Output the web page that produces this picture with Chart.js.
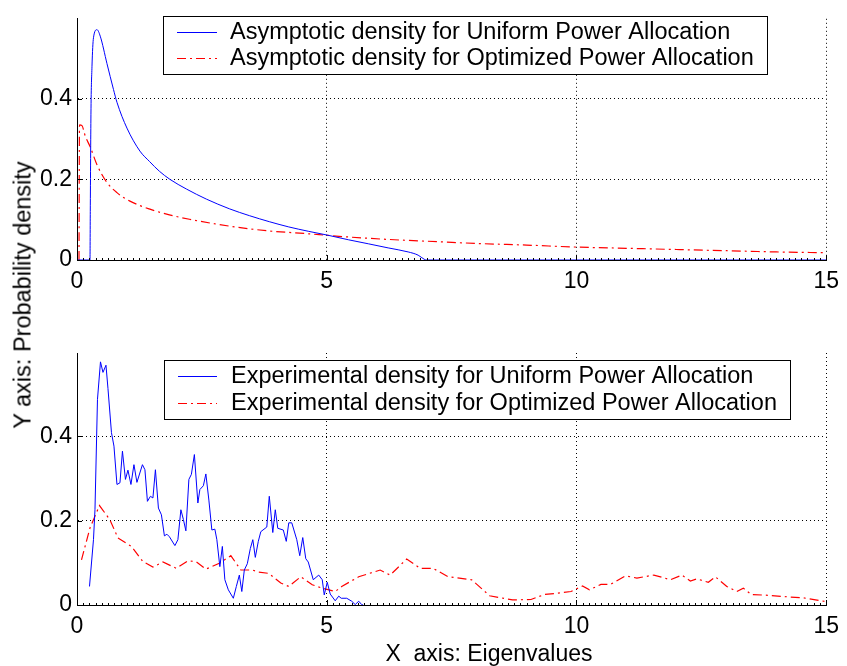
<!DOCTYPE html>
<html>
<head>
<meta charset="utf-8">
<script src="https://cdn.jsdelivr.net/npm/chart.js@4.4.0/dist/chart.umd.min.js"></script>
<style>
  html, body { margin: 0; padding: 0; background: #fff; }
  #wrap { position: relative; width: 847px; height: 666px; overflow: hidden;
          font-family: "Liberation Sans", Arial, Helvetica, sans-serif; }
  canvas { position: absolute; left: 0; }
  #topChart { top: 0; }
  #bottomChart { top: 333px; }
  .axis-title { position: absolute; color: #000; white-space: pre; }
  #yTitle { left: 23px; top: 295px; font-size: 23.5px; transform: translate(-50%, -50%) rotate(-90deg); }
  #xTitle { left: 489px; top: 653px; font-size: 23px; transform: translate(-50%, -50%); }
</style>
</head>
<body>
<div id="wrap">
  <canvas id="topChart" width="847" height="333"></canvas>
  <canvas id="bottomChart" width="847" height="333"></canvas>
  <div class="axis-title" id="yTitle">Y axis: Probability density</div>
  <div class="axis-title" id="xTitle">X  axis: Eigenvalues</div>
</div>
<script>
// tick labels
const xTickLabels = [0, 5, 10, 15];
const yTickValues = [0, 0.2, 0.4];

const legendTop = ['Asymptotic density for Uniform Power Allocation',
                   'Asymptotic density for Optimized Power Allocation'];
const legendBottom = ['Experimental density for Uniform Power Allocation',
                      'Experimental density for Optimized Power Allocation'];

// [eigenvalue, density]
const asymUniform = [
    [0, 0], [0.26, 0], [0.266, 0.12], [0.279, 0.36], [0.30, 0.479], [0.33, 0.551],
    [0.40, 0.571], [0.465, 0.555], [0.60, 0.487], [0.73, 0.423], [0.80, 0.391],
    [1.0, 0.327], [1.26, 0.270], [1.454, 0.244], [1.65, 0.220], [1.86, 0.2],
    [2.19, 0.176], [2.59, 0.151], [3.05, 0.127], [3.45, 0.110], [3.85, 0.095],
    [4.24, 0.082], [4.64, 0.071], [5.02, 0.0615], [5.44, 0.050], [5.84, 0.040],
    [6.23, 0.030], [6.63, 0.020], [6.83, 0.012], [6.95, 0.002], [7.0, 0], [15, 0]
];

const asymOptimized = [
    [0.04, 0], [0.05, 0.335], [0.10, 0.333], [0.166, 0.307], [0.266, 0.28],
    [0.40, 0.236], [0.60, 0.192], [0.80, 0.167], [1.06, 0.146], [1.46, 0.126],
    [1.85, 0.112], [2.25, 0.101], [3.05, 0.084], [3.85, 0.072], [4.64, 0.065],
    [5.02, 0.061], [5.44, 0.057], [6.23, 0.051], [7.29, 0.045], [8, 0.041],
    [9, 0.037], [10, 0.032], [11, 0.029], [12, 0.026], [13, 0.023], [14, 0.020],
    [15, 0.018]
];

const expUniform = [
    [0.25, 0.044], [0.33, 0.155], [0.36, 0.226], [0.41, 0.488], [0.47, 0.577],
    [0.52, 0.552], [0.58, 0.569], [0.62, 0.514], [0.69, 0.409], [0.74, 0.377],
    [0.80, 0.286], [0.86, 0.290], [0.91, 0.365], [0.97, 0.298], [1.02, 0.320],
    [1.08, 0.286], [1.14, 0.333], [1.20, 0.291], [1.31, 0.333], [1.36, 0.321],
    [1.41, 0.246], [1.47, 0.258], [1.52, 0.254], [1.57, 0.321], [1.63, 0.230],
    [1.69, 0.214], [1.75, 0.164], [1.80, 0.168], [1.85, 0.162], [1.96, 0.141],
    [2.02, 0.155], [2.08, 0.226], [2.13, 0.203], [2.18, 0.176], [2.24, 0.298],
    [2.29, 0.310], [2.35, 0.357], [2.42, 0.242], [2.46, 0.274], [2.53, 0.283],
    [2.58, 0.311], [2.64, 0.249], [2.70, 0.178], [2.76, 0.180], [2.80, 0.155],
    [2.86, 0.091], [2.91, 0.139], [2.96, 0.060], [3.03, 0.036], [3.13, 0.016],
    [3.19, 0.044], [3.25, 0.071], [3.30, 0.032], [3.35, 0.083], [3.41, 0.098],
    [3.47, 0.134], [3.52, 0.155], [3.57, 0.113], [3.63, 0.151], [3.68, 0.174],
    [3.80, 0.185], [3.85, 0.258], [3.92, 0.172], [3.97, 0.226], [4.02, 0.182],
    [4.13, 0.178], [4.19, 0.151], [4.24, 0.195], [4.30, 0.195], [4.40, 0.155],
    [4.46, 0.117], [4.52, 0.160], [4.58, 0.110], [4.63, 0.102], [4.73, 0.060],
    [4.84, 0.071], [4.91, 0.060], [4.95, 0.024], [5.01, 0.054], [5.07, 0.026],
    [5.17, 0.010], [5.24, 0.021], [5.29, 0.016], [5.40, 0.016], [5.50, 0.009],
    [5.57, 0.001], [5.64, 0.009], [5.70, 0.001], [5.73, 0]
];

const expOptimized = [
    [0.09, 0.107], [0.26, 0.183], [0.45, 0.236], [0.66, 0.202], [0.82, 0.159],
    [1.09, 0.139], [1.32, 0.103], [1.52, 0.090], [1.72, 0.102], [1.99, 0.087],
    [2.22, 0.105], [2.38, 0.103], [2.58, 0.085], [2.85, 0.099], [3.08, 0.117],
    [3.28, 0.083], [3.51, 0.083], [3.64, 0.078], [3.84, 0.075], [4.08, 0.052],
    [4.24, 0.044], [4.48, 0.067], [4.71, 0.048], [4.91, 0.040], [5.17, 0.032],
    [5.30, 0.044], [5.64, 0.067], [6.07, 0.083], [6.27, 0.071], [6.60, 0.109],
    [6.87, 0.087], [7.13, 0.087], [7.43, 0.067], [7.90, 0.060], [8.26, 0.022],
    [8.72, 0.012], [9.09, 0.013], [9.36, 0.025], [9.62, 0.028], [9.89, 0.032],
    [10.12, 0.045], [10.26, 0.036], [10.49, 0.049], [10.68, 0.049], [10.98, 0.069],
    [11.21, 0.064], [11.55, 0.071], [11.88, 0.060], [12.11, 0.071], [12.28, 0.057],
    [12.41, 0.062], [12.64, 0.054], [12.78, 0.067], [13.01, 0.044], [13.21, 0.032],
    [13.34, 0.040], [13.50, 0.025], [13.84, 0.023], [14.27, 0.019], [14.54, 0.017],
    [15.00, 0.008]
];

const FONT = '"Liberation Sans", Arial, Helvetica, sans-serif';
const BLUE = '#0000ff';
const RED = '#ff0000';
const DASH_DOT = [9, 4, 2, 4];

const toPoints = arr => arr.map(p => ({ x: p[0], y: p[1] }));

// inward tick marks + boxed legend, drawn on top of the data
const matlabAxes = {
    id: 'matlabAxes',
    afterDraw(chart, args, opts) {
        const ctx = chart.ctx;
        const xs = chart.scales.x;
        const ys = chart.scales.y;
        const area = chart.chartArea;

        ctx.save();
        ctx.strokeStyle = '#000';
        ctx.lineWidth = 1;
        ctx.setLineDash([]);
        ctx.beginPath();
        xs.ticks.forEach(t => {
            const px = Math.round(xs.getPixelForValue(t.value)) + 0.5;
            const len = xTickLabels.includes(t.value) ? 5 : 2;
            ctx.moveTo(px, area.bottom);
            ctx.lineTo(px, area.bottom - len);
        });
        ys.ticks.forEach(t => {
            if (t.value === 0) return;
            const py = Math.round(ys.getPixelForValue(t.value)) + 0.5;
            ctx.moveTo(area.left, py);
            ctx.lineTo(area.left + 5, py);
        });
        ctx.stroke();

        // legend box
        ctx.fillStyle = '#fff';
        ctx.fillRect(opts.x, opts.y, opts.w, opts.h);
        ctx.strokeRect(opts.x + 0.5, opts.y + 0.5, opts.w, opts.h);

        ctx.font = '23.5px ' + FONT;
        ctx.textBaseline = 'middle';
        ctx.textAlign = 'left';
        chart.data.datasets.forEach((ds, i) => {
            const y = Math.round(opts.rows[i]) + 0.5;
            ctx.strokeStyle = ds.borderColor;
            ctx.lineWidth = ds.borderWidth;
            ctx.setLineDash(ds.borderDash || []);
            ctx.beginPath();
            ctx.moveTo(opts.lineX0, y);
            ctx.lineTo(opts.lineX1, y);
            ctx.stroke();
            ctx.fillStyle = '#000';
            ctx.fillText(ds.label, opts.textX, opts.rows[i] + 1);
        });
        ctx.restore();
    }
};

function gridColor(c) {
    return (c.tick && c.tick.value > 0 && (c.scale.axis === 'y' || xTickLabels.includes(c.tick.value)))
        ? '#000' : 'rgba(0,0,0,0)';
}

function buildChart(canvasId, labels, uniform, optimized, legendOpts, topPad, xHeight, smooth) {
    const ctx = document.getElementById(canvasId).getContext('2d');
    const mode = smooth ? 'monotone' : 'default';
    return new Chart(ctx, {
        type: 'line',
        data: {
            datasets: [{
                label: labels[0],
                data: toPoints(uniform),
                borderColor: BLUE,
                borderWidth: 1,
                pointRadius: 0,
                fill: false,
                cubicInterpolationMode: mode,
                tension: 0
            }, {
                label: labels[1],
                data: toPoints(optimized),
                borderColor: RED,
                borderWidth: 1.2,
                borderDash: DASH_DOT,
                pointRadius: 0,
                fill: false,
                cubicInterpolationMode: mode,
                tension: 0
            }]
        },
        options: {
            responsive: false,
            animation: false,
            events: [],
            layout: { padding: { top: topPad, right: 17, left: 0, bottom: 0 } },
            plugins: {
                legend: { display: false },
                tooltip: { enabled: false },
                matlabAxes: legendOpts
            },
            scales: {
                x: {
                    type: 'linear',
                    min: 0,
                    max: 15,
                    afterFit: s => { s.height = xHeight; },
                    ticks: {
                        stepSize: 0.125,
                        autoSkip: false,
                        maxRotation: 0,
                        padding: 8,
                        color: '#000',
                        font: { family: FONT, size: 23 },
                        callback: v => xTickLabels.includes(v) ? String(v) : ''
                    },
                    grid: { drawTicks: false, lineWidth: 1, color: gridColor },
                    border: { display: true, color: '#000', width: 1, dash: [1, 3] }
                },
                y: {
                    type: 'linear',
                    min: 0,
                    max: 0.598,
                    afterFit: s => { s.width = 77; },
                    afterBuildTicks: s => { s.ticks = yTickValues.map(v => ({ value: v })); },
                    ticks: {
                        padding: 5,
                        color: '#000',
                        font: { family: FONT, size: 23 },
                        callback: v => String(v)
                    },
                    grid: { drawTicks: false, lineWidth: 1, color: gridColor },
                    border: { display: true, color: '#000', width: 1, dash: [1, 3] }
                }
            }
        },
        plugins: [matlabAxes]
    });
}

document.addEventListener('DOMContentLoaded', () => {
    try {
        buildChart('topChart', legendTop, asymUniform, asymOptimized,
            { x: 163, y: 16, w: 604, h: 58, rows: [32, 58], lineX0: 177, lineX1: 217, textX: 230 },
            10, 73, true);
        buildChart('bottomChart', legendBottom, expUniform, expOptimized,
            { x: 164, y: 27, w: 626, h: 59, rows: [43, 70], lineX0: 178, lineX1: 217, textX: 231 },
            20, 61, false);
    } catch (error) {
        console.error('Error during chart rendering:', error);
    }
});
</script>
</body>
</html>
